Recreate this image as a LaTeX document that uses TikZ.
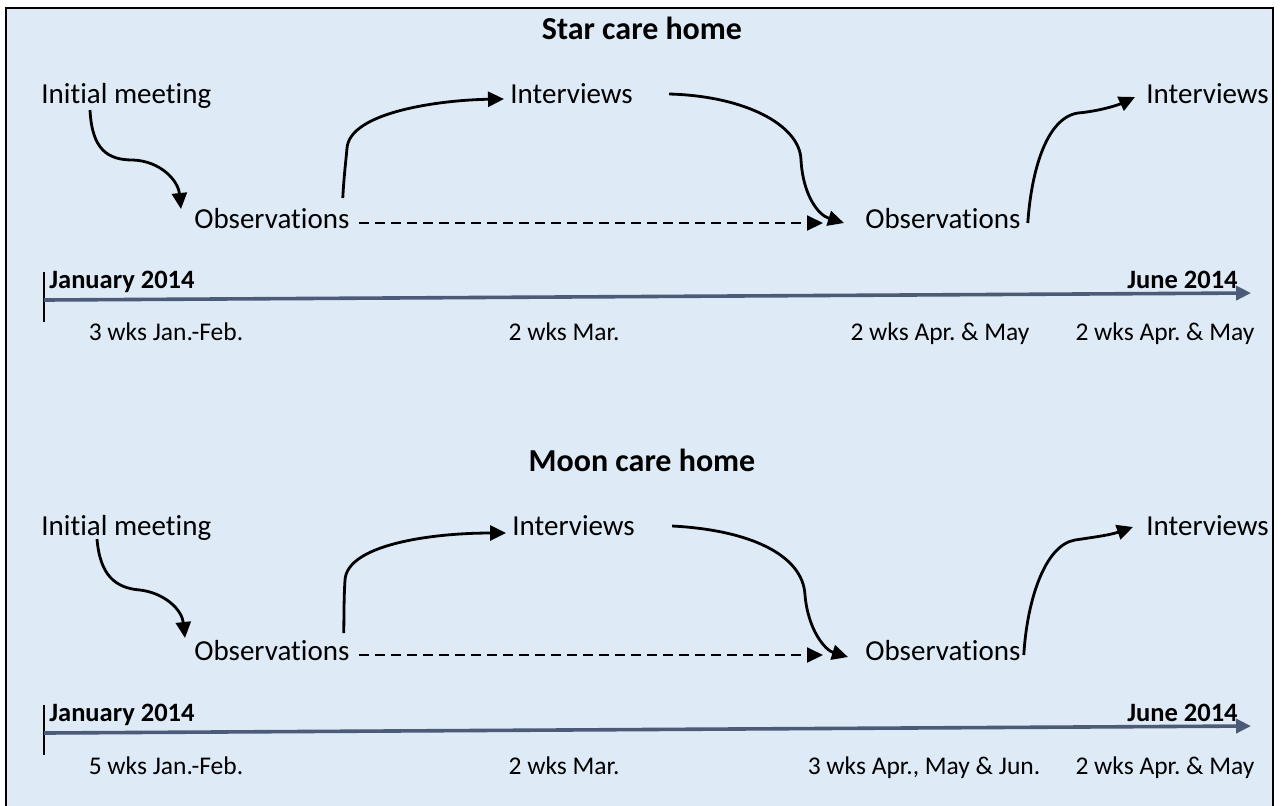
\documentclass[tikz,border=0pt]{standalone}
\usepackage{fontspec}
\setmainfont{Carlito}[Ligatures=NoCommon]
\usetikzlibrary{arrows.meta}
\definecolor{bgblue}{HTML}{DEEAF6}
\definecolor{tlcol}{HTML}{4B5B78}
\frenchspacing
\tikzset{
  txt/.style={font=\fontsize{14.5}{17}\selectfont, inner sep=0pt, anchor=base west},
  ttl/.style={font=\fontsize{16}{19}\selectfont\bfseries, inner sep=0pt, anchor=base},
  datelbl/.style={font=\fontsize{13.25}{16}\selectfont\bfseries, inner sep=0pt},
  wklbl/.style={font=\fontsize{12.75}{15}\selectfont, inner sep=0pt, anchor=base},
  flow/.style={line width=1.4pt, -{Triangle[length=8pt,width=7.5pt]}},
  dflow/.style={line width=1pt, dash pattern=on 5pt off 3pt, -{Triangle[length=8pt,width=7.5pt]}},
  tline/.style={tlcol, line width=1.8pt, -{Triangle[length=7.5pt,width=7pt]}},
  tick/.style={line width=0.6pt}
}
\begin{document}
\begin{tikzpicture}[x=0.5pt,y=-0.5pt]
\clip (0,0) rectangle (1284,805);
\draw[fill=bgblue, line width=1.25pt] (6,8) rectangle (1273,840);

% ---------------- Star care home ----------------
\node[ttl] (t1) at (642,39) {Star care home};
\node[txt] (im1) at (41,103) {Initial meeting};
\node[txt] (ob1) at (194,228) {Observations};
\node[txt] (iv1) at (510,103) {Interviews};
\node[txt] (ob2) at (865,228) {Observations};
\node[txt] (iv2) at (1146,103) {Interviews};

\draw[flow] ([shift={(49,7)}]im1.base west) .. controls (92,150) and (108,160) .. (133,160)
  .. controls (160,161) and (178,180) .. ([shift={(-13,-19)}]ob1.base west);
\draw[flow] ([shift={(-7,-30)}]ob1.base east) .. controls (344,175) and (346,160) .. (347,148)
  .. controls (350,112) and (440,100) .. ([shift={(-6,-4)}]iv1.base west);
\draw[flow] ([shift={(36,-9)}]iv1.base east) .. controls (745,96) and (800,125) .. (801,160)
  .. controls (803,195) and (818,215) .. ([shift={(-21,-5)}]ob2.base west);
\draw[dflow] ([shift={(9,-5)}]ob1.base east) -- ([shift={(-42,-5)}]ob2.base west);
\draw[flow] ([shift={(7,-5)}]ob2.base east) .. controls (1031,175) and (1045,118) .. (1078,113)
  .. controls (1100,111) and (1118,105) .. ([shift={(-11,-6)}]iv2.base west);

\coordinate (tk1a) at (44,272);
\coordinate (tk1b) at (44,322);
\coordinate (tl1s) at (44,300);
\coordinate (tl1e) at (1251,293);
\draw[tick] (tk1a) -- (tk1b);
\draw[tline] (tl1s) -- (tl1e);
\node[datelbl, anchor=base west] (jan1) at (49,288) {January 2014};
\node[datelbl, anchor=base east] (jun1) at (1238,288) {June 2014};
\node[wklbl] (w11) at (166,340) {3 wks Jan.-Feb.};
\node[wklbl] (w12) at (564,340) {2 wks Mar.};
\node[wklbl] (w13) at (940,340) {2 wks Apr. \& May};
\node[wklbl] (w14) at (1165,340) {2 wks Apr. \& May};

% ---------------- Moon care home ----------------
\node[ttl] (t2) at (642,471) {Moon care home};
\node[txt] (im2) at (41,535) {Initial meeting};
\node[txt] (ob3) at (194,660) {Observations};
\node[txt] (iv3) at (512,535) {Interviews};
\node[txt] (ob4) at (865,660) {Observations};
\node[txt] (iv4) at (1146,535) {Interviews};

\draw[flow] ([shift={(56,4)}]im2.base west) .. controls (100,575) and (115,588) .. (140,590)
  .. controls (165,593) and (182,610) .. ([shift={(-9,-22)}]ob3.base west);
\draw[flow] ([shift={(-6,-27)}]ob3.base east) .. controls (344,610) and (344,595) .. (345,580)
  .. controls (347,545) and (430,533) .. ([shift={(-6,-2)}]iv3.base west);
\draw[flow] ([shift={(37,-9)}]iv3.base east) .. controls (750,530) and (803,555) .. (805,595)
  .. controls (808,630) and (825,650) .. ([shift={(-17,-3)}]ob4.base west);
\draw[dflow] ([shift={(9,-5)}]ob3.base east) -- ([shift={(-42,-5)}]ob4.base west);
\draw[flow] ([shift={(3,-5)}]ob4.base east) .. controls (1027,600) and (1045,545) .. (1075,540)
  .. controls (1095,537) and (1110,535) .. ([shift={(-13,-8)}]iv4.base west);

\coordinate (tk2a) at (44,705);
\coordinate (tk2b) at (44,755);
\coordinate (tl2s) at (44,733);
\coordinate (tl2e) at (1251,726);
\draw[tick] (tk2a) -- (tk2b);
\draw[tline] (tl2s) -- (tl2e);
\node[datelbl, anchor=base west] (jan2) at (49,721) {January 2014};
\node[datelbl, anchor=base east] (jun2) at (1238,721) {June 2014};
\node[wklbl] (w21) at (166,774) {5 wks Jan.-Feb.};
\node[wklbl] (w22) at (564,774) {2 wks Mar.};
\node[wklbl] (w23) at (924,774) {3 wks Apr., May \& Jun.};
\node[wklbl] (w24) at (1165,774) {2 wks Apr. \& May};
\end{tikzpicture}
\end{document}
